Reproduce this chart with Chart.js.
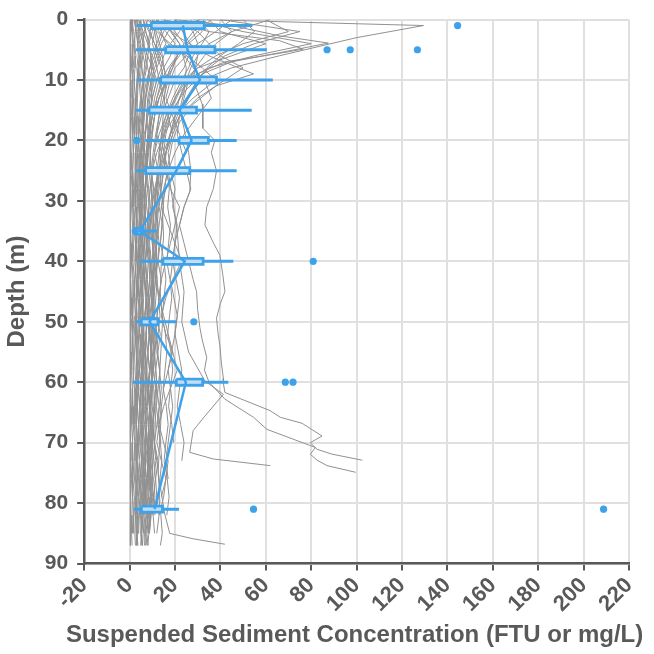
<!DOCTYPE html>
<html>
<head>
<meta charset="utf-8">
<script src="https://cdn.jsdelivr.net/npm/chart.js@4/dist/chart.umd.min.js"></script>
<style>
html,body{margin:0;padding:0;background:#fff;}
#wrap{width:654px;height:654px;}
</style>
</head>
<body>
<div id="wrap"><canvas id="c" width="654" height="654"></canvas></div>
<script>
// ---------- Axis ticks ----------
const xTicks = [-20,0,20,40,60,80,100,120,140,160,180,200,220];
const yTicks = [0,10,20,30,40,50,60,70,80,90];
const X_TITLE = 'Suspended Sediment Concentration (FTU or mg/L)';
const Y_TITLE = 'Depth (m)';

// ---------- Box plot summary (depth in m, SSC values) ----------
const boxDepth   = [1, 5, 10, 15, 20, 25, 35, 40, 50, 60, 81];
const whiskerLo  = [3.2, 2.7, 3.2, 2.7, 7.1, 2.7, 1.5, 4.4, 2.9, 1.5, 1.9];
const q1         = [9.6, 15.9, 13.7, 8.6, 21.8, 7.1, 2.5, 14.7, 5.2, 20.6, 5.2];
const median     = [23.5, 25.5, 31, 22, 27.3, 20.6, 4.5, 24.3, 8.8, 24.8, 11];
const q3         = [32.9, 37.6, 38.3, 29.5, 34.7, 26.5, 6.0, 32.4, 12.5, 32.2, 14.5];
const whiskerHi  = [54.1, 60.5, 63.1, 53.8, 47.2, 47.2, 12, 45.7, 20.6, 43.5, 21.8];
const outlierX   = [144.5, 87, 97.2, 126.8, 3.2, 2.5, 80.9, 28.3, 68.6, 72, 54.6, 208.8];
const outlierY   = [1, 5, 5, 5, 20, 35, 40, 50, 60, 60, 81, 81];

// ---------- Individual profiles on a shared depth grid ----------
const gridDepth = [0,2,4,6,8,10,13,16,19,22,25,28,31,34,37,40,43,46,49,52,55,58,61,64,67,70,73,76,79,82,85,87];
const gridProfiles = [
 [0.5,0.3,0.5,0.2,0.4,0.5,0.3,0.2,0.5,0.4,0.3,0.5,0.2,0.4,0.3,0.5,0.2,0.4,0.5,0.3,0.2,0.4,0.5,0.3,0.4,0.2,0.5,0.3,0.4,0.2,0.5,0.4],
 [1.5,1.2,1.8,1.4,1.1,1.6,1.3,1.5,1.2,1.7,1.4,1.2,1.5,1.8,1.3,1.1,1.6,1.4,1.2,1.5,1.3,1.7,1.4,1.2,1.6,1.3,1.5,1.1,1.4,1.7,1.2,null],
 [3,2.5,2.2,2.8,2.4,2,2.6,2.3,2.1,2.7,2.5,2.2,2.4,2,2.6,2.8,2.3,2.1,2.5,2.7,2.2,2.4,2.9,2.3,2.1,2.6,2.4,2.2,2.8,2.5,2.3,2.6],
 [5,4.2,3.5,3.8,3.2,3.6,3,3.4,3.1,2.8,3.3,3,3.5,2.9,3.2,3.6,3.1,2.8,3.4,3,3.3,2.9,3.7,3.2,3,3.5,3.1,3.4,2.9,3.3,3.6,null],
 [8,6.5,5.8,5,4.6,4.2,4.8,4.1,3.8,4.4,4,3.6,4.2,4.5,3.9,4.1,3.7,4.3,4,3.6,4.4,4.1,3.8,4.6,4.2,3.9,4.5,4.1,4.8,4.3,4,null],
 [12,10,8.5,7.2,6.5,6,5.2,5.5,4.8,5.1,4.6,5,4.4,4.9,5.3,4.7,5.1,4.5,4.9,5.4,4.8,5.2,4.6,5,5.5,4.9,5.3,4.7,5.1,4.8,5.2,4.9],
 [18,15,13,11,9,8,7,6.5,6,5.5,6.2,5.8,5.4,6,5.6,6.3,5.9,5.5,6.1,5.7,6.4,6,5.6,6.2,5.8,6.5,6.1,5.7,6.3,5.9,6.2,null],
 [25,22,18,15,14,12,10,9,8,7.5,7,7.8,7.2,6.8,7.4,7,6.6,7.3,6.9,7.5,7.1,6.7,7.4,7,7.6,7.2,6.8,7.5,7.1,null,null,null],
 [6,7,9,8,7.5,6.5,6,5.5,5.8,6.2,5.4,5,5.6,5.2,4.8,5.4,5.9,5.3,5.7,6.1,5.5,5.9,6.3,5.7,6,6.6,7,6.4,6.8,7.2,6.6,7],
 [10,14,16,13,11,9.5,8,7.5,8.2,7.6,7,8,8.6,7.8,7.2,8.4,9,8.2,7.6,8.8,8.2,7.4,8,8.8,9.2,8.4,7.8,8.6,9.4,8.8,8.2,null],
 [15,20,24,22,18,16,13,11,10,9,9.5,10.5,9.8,9.2,10,10.8,10.2,9.6,10.4,11,10.2,9.6,10.6,11.2,10.4,9.8,10.8,11.4,10.6,11.2,null,null],
 [22,28,30,26,24,20,17,14,12,11,12.5,11.8,11,12.2,13,12.4,11.6,12.8,13.4,12.6,12,13.2,14,13.2,12.4,13.6,14.2,13.4,12.8,13.8,14.4,13.6],
 [30,35,32,28,26,23,19,16,14,13,14,13.5,15,14.2,13.6,15.2,16,15.2,14.4,15.8,16.4,15.6,14.8,16.2,17,16,15.2,16.6,17.4,16.4,null,null],
 [40,45,38,33,29,26,22,18,16,15,16.5,17.5,16.8,18,17.2,16.4,17.8,18.6,17.6,16.8,18.2,19,18,17.2,18.6,19.4,null,null,null,null,null,null],
 [50,55,48,40,34,30,26,22,19,17,18,20,19,21,20,19,20.5,22,21,20,21.5,23,22,21,22.5,24,23,null,null,null,null,null],
 [62,45,35,30,27,25,22,20,18,16,15,14,13,14.5,13.5,12.5,14,13,12,13.5,12.5,11.5,12,13,12,11,12.5,11.5,12,13,null,null],
 [35,40,60,45,30,24,20,17,15,14,13,12,12.5,11.5,11,12,11.5,10.5,11,12,11,10.5,11.5,11,10,10.8,11.6,10.6,11.2,10.4,11,null],
 [28,50,80,55,35,25,20,16,13,11,10,9.5,10,9,8.5,9.2,8.8,8.2,9,8.6,8,8.8,8.4,7.8,8.6,8.2,7.6,8.4,8,7.6,8.2,null],
 [20,30,35,40,50,42,30,22,18,15,13,12,11,10.5,10,11,10.4,9.8,10.6,10,9.4,10.2,9.6,9,9.8,9.2,8.8,9.6,9,8.6,null,null],
 [8,12,18,25,32,38,28,20,15,12,10,9,8.5,8,7.6,8.2,7.8,7.2,7.8,7.4,7,7.6,7.2,6.8,7.4,7,6.6,7.2,6.8,6.4,7,6.6],
 [14,18,22,24,28,33,36,30,24,20,17,15,14,13,12,11.5,12.2,11.6,11,11.8,11.2,10.6,11.4,10.8,10.2,11,10.4,9.8,10.6,10,null,null],
 [4,5,6,7,8,9,10,9,8.5,8,7.5,7,6.5,7,6.5,6,6.6,6.2,5.8,6.4,6,5.6,6.2,5.8,5.4,6,5.6,5.2,5.8,5.4,5,5.6],
 [2,3,4,5,5.5,6,6.5,6,5.5,5,4.6,4.2,4.8,4.4,4,4.6,4.2,3.8,4.4,4,3.6,4.2,3.8,3.4,4,3.6,3.2,3.8,3.4,3,3.6,3.2],
 [9,11,12,10,9,8,7,6,5.5,5,4.5,4.8,5.2,4.6,4.2,4.8,5.2,4.6,4,4.6,5,4.4,3.8,4.4,4.8,4.2,3.6,4.2,4.6,4,3.4,null],
 [16,14,12,11,12,13,15,17,19,16,13,11,10,9,8,9,10,9,8,8.5,9.5,8.8,8,8.6,9.4,8.6,7.8,8.4,9.2,8.4,7.6,8.2],
 [45,38,30,25,20,18,16,19,22,25,20,16,14,17,20,23,19,16,14,16,19,21,18,15,13,15,17,16,14,null,null,null],
 [33,28,24,21,18,16,14,13,12,14,16,18,22,20,18,16,14,13,15,17,19,17,15,14,13,12,14,16,15,13,12,null],
 [12,16,20,18,15,13,11,10,9,8,7.5,7,6.5,6,6.5,7,7.5,8,8.5,9,9.5,10,9.5,9,8.5,8,8.5,9,9.5,9,8.5,8],
 [7,9,11,14,12,10,8.5,7.5,7,6.5,6,5.5,5,5.5,6,6.5,6,5.5,5,5.5,6,6.5,6,5.5,5,5.5,6,6.5,6,5.5,5,5.5],
 [3.5,4,5,4.5,4,3.8,3.5,3.2,3,3.4,3.8,3.5,3.2,3,2.8,3.2,3.6,3.3,3,2.8,3.1,3.5,3.2,2.9,2.7,3,3.4,3.1,2.8,2.6,2.9,3.2],
 [60,70,50,38,30,26,24,22,21,23,25,27,24,22,20,19,18,19.5,21,20,18.5,17,18,19,18,17,16,17,null,null,null,null],
 [40,75,55,42,35,30,25,21,18,16,14,13,12,11,10.5,10,9.5,10,9.5,9,9.5,9,8.5,9,8.5,8,8.5,8,7.5,8,null,null],
 [2.5,3.5,4.5,6,7,6,5,4.5,4,3.6,3.2,3.5,3.9,3.4,3,3.3,3.7,3.2,2.9,3.4,3.8,3.3,3,3.5,3.9,3.4,3.1,3.6,4,3.5,3.2,3.7],
 [11,9,8,9.5,10.5,11,9,8,7,6.2,5.6,6.4,7,6.2,5.5,6,6.8,7.4,6.6,5.9,6.5,7.2,6.4,5.8,6.6,7.3,6.5,5.9,6.7,7.4,6.8,null],
 [1,1.8,2.4,2,1.6,2.2,1.8,1.4,2,1.7,1.3,1.9,1.6,2.2,1.8,1.5,2.1,1.7,1.4,2,1.8,1.5,2.2,1.9,1.6,2.3,1.9,1.5,2.1,1.8,1.6,null],
 [4,6,8,10,9,7.5,6,5,4.2,3.8,4.4,5,4.6,4,4.8,5.4,4.9,4.3,5,5.6,5,4.4,5.2,5.8,5.1,4.5,5.3,5.9,5.2,4.6,null,null],
 [20,17,14,12,10,8.6,7.2,6.4,5.8,6.6,7.4,6.8,6.2,7,7.8,7.1,6.5,7.3,8,7.2,6.6,7.4,8.2,7.5,6.8,7.6,8.4,7.7,7,7.8,8.5,null],
 [6,8.5,11,13,15,17,13,10,8.4,7.2,6.4,5.8,6.6,7.2,6.5,5.9,6.8,7.5,6.8,6.1,7,7.7,7,6.3,7.2,7.9,7.1,6.4,7.3,8,7.2,7.6],
 [2.2,2.8,3.6,4.2,3.8,3.2,2.8,2.5,2.9,3.3,2.8,2.4,2.7,3.1,2.6,2.3,2.8,3.2,2.7,2.4,2.9,3.3,2.8,2.5,3,3.4,2.9,2.6,3.1,3.5,3,null],
 [27,32,26,21,17,14,12,11,10,9.2,8.6,9.4,10.2,9.5,8.8,9.6,10.4,9.7,9,9.8,10.6,9.9,9.2,10,10.8,10.1,9.4,10.2,null,null,null,null],
 [13,11,10,12,14,15,12,10,8.8,8,7.3,6.8,7.6,8.4,7.7,7,7.8,8.6,7.9,7.2,8,8.8,8.1,7.4,8.2,9,8.3,7.6,8.4,9.2,8.5,null],
 [3,4.5,6,8,10,12,10,8,6.5,5.4,4.6,4,4.6,5.2,4.7,4.2,4.8,5.4,4.9,4.3,5,5.6,5,4.5,5.2,5.8,5.2,4.6,5.3,5.9,5.3,5.6],
 [36,30,25,21,19,17,15,13,11.5,10.4,9.6,10.6,11.6,12.6,11.8,11,12,13,12.2,11.4,12.4,13.4,12.6,11.8,12.8,13.8,null,null,null,null,null,null],
 [0.8,1,1.4,1.2,0.9,1.3,1.1,0.8,1.2,1,0.7,1.1,0.9,1.3,1,0.8,1.2,0.9,0.7,1.1,1,0.8,1.2,1,0.9,1.3,1.1,0.8,1.2,1,0.9,1.1],
 [9,13,17,21,19,16,13,11,9.5,8.4,7.6,8.4,9.2,8.6,8,8.8,9.6,8.9,8.2,9,9.8,9.1,8.4,9.2,10,9.3,8.6,9.4,10.2,9.5,8.8,null],
 [5,5.5,6.5,5.8,5.2,4.8,5.4,6,5.4,4.9,5.5,6.1,5.5,5,5.6,6.2,5.6,5.1,5.7,6.3,5.7,5.2,5.8,6.4,5.8,5.3,5.9,6.5,5.9,5.4,6,5.7]
];

// ---------- Individual profiles with their own depth samples ----------
const profA_depth = [0,1,3,6,8,10,13,16,20,25,30,35,40,45,50,55,60,65,70,75,78];
const profA_value = [30,129.5,100,66,45,32,25,20,17,15,13,12,11,10.5,10,9.5,10,9,9.5,9,8.5];
const profB_depth = [0,1,2.7,3.9,5.5,7,9,12,15,18,22,26,30,35,40,45,50,55,60,65,70,75,80];
const profB_value = [20,45,66,87.6,66,45,32,24,19,16,14,13,12,11.5,12,11,10.5,11,10,10.5,9.8,10.2,9.6];
const profC_depth = [0,2,3.5,4.9,5.6,7,9,12,15,18,22,26,30,35,40,45,50,55,60,65,70,75,80,84];
const profC_value = [15,35,66,76.5,66,42,30,22,18,15,13,12,11,10,10.5,9.8,10.2,9.5,10,9.4,9.8,9.2,9.6,9];
const profD_depth = [0,3,6,9,11,14,17,20,24,28,32,36,40,45,50,55,60,65,70,75,80];
const profD_value = [12,22,35,54.6,38,28,22,19,17,15.5,14.5,15,14,13.5,14.5,13.8,13,14,13.2,12.6,13.4];
const profE_depth = [0,3,6,10,14,18,20,22,25,28,31,34,37,39,42,45,47,49.4,52,54,57,59.3,60.1,61.7,64.7,65.8,66.8,68.9,70,71.1,71.9,72.9];
const profE_value = [20,25,30,28,32,32.3,37.6,36,38.3,36.9,34,33.2,37,39.8,41,42,40,38.3,39,39.8,40.5,41.3,41.3,42,61.9,66.4,76,84.8,79.6,82.6,89.2,102.5];
const profF_depth = [0,4,8,12,15,18,22,25,28.5,31,34,37,40,43,45,48,51,53,55.9,58,60,62.8,65.8,67.8,70.8,71.9,72.9,73.8,74.9];
const profF_value = [15,22,25,24,22,24,26,27,26.5,24,22,24,26,28,29.5,30,31,32,34,33,35,42,54.6,60.5,81.9,79.6,82.6,87,99.6];
const profG_depth = [0,5,10,15,20,25,30,35,40,45,50,55,59.8,62,65.6,68,71.6,72.7,73.8];
const profG_value = [10,14,16,15,14,17,19,21,22,24,23,26,33.2,41.3,33.2,28,26.5,36.9,62];
const profH_depth = [0,5,10,20,30,40,50,60,70,76,81.8,85,85.9,86.8];
const profH_value = [6,9,10,9,10,11,10,12,11,13,15.5,17.7,28,42];

const BLUE = '#3ea2ea';
const GRAY = 'rgb(145,145,145)';
const TEXT = '#595959';
const FONT = "'Liberation Sans', Arial, Helvetica, sans-serif";
const X_TITLE_SIZE = 24;

const datasets = [];
function pts(xs, ys) {
  const out = [];
  for (let i = 0; i < xs.length; i++) {
    if (xs[i] === null || xs[i] === undefined) continue;
    out.push({x: xs[i], y: ys[i]});
  }
  return out;
}

// Outliers (top)
datasets.push({data: pts(outlierX, outlierY), showLine: false, pointRadius: 3.6,
  pointBackgroundColor: BLUE, pointBorderColor: BLUE, pointBorderWidth: 0, order: 0});
// Median line
datasets.push({data: pts(median, boxDepth), borderColor: BLUE, borderWidth: 2.5,
  pointRadius: 0, fill: false, order: 1});
// Boxes and whiskers
const HALF = 0.5;
for (let i = 0; i < boxDepth.length; i++) {
  const d = boxDepth[i];
  datasets.push({data: [{x: q1[i], y: d - HALF}, {x: q3[i], y: d - HALF}, {x: q3[i], y: d + HALF},
      {x: q1[i], y: d + HALF}, {x: q1[i], y: d - HALF}],
    borderColor: BLUE, borderWidth: 2.8, backgroundColor: 'rgba(225,236,248,0.8)',
    fill: 'shape', pointRadius: 0, order: 2});
  datasets.push({data: [{x: whiskerLo[i], y: d}, {x: whiskerHi[i], y: d}],
    borderColor: BLUE, borderWidth: 3, pointRadius: 0, fill: false, order: 3});
}
// Gray profiles (bottom)
gridProfiles.forEach(vals => {
  datasets.push({data: pts(vals, gridDepth), borderColor: GRAY, borderWidth: 1,
    pointRadius: 0, fill: false, order: 10});
});
[[profA_value, profA_depth],[profB_value, profB_depth],[profC_value, profC_depth],[profD_value, profD_depth],
 [profE_value, profE_depth],[profF_value, profF_depth],[profG_value, profG_depth],[profH_value, profH_depth]].forEach(p => {
  datasets.push({data: pts(p[0], p[1]), borderColor: GRAY, borderWidth: 1,
    pointRadius: 0, fill: false, order: 10});
});

// The x-axis title is wider than the plot, so draw it without Chart.js's maxWidth squeeze
// (the scale title is kept, transparent, only to reserve its space in the layout).
const xTitlePlugin = {
  id: 'xTitleFull',
  afterDraw(chart) {
    const sc = chart.scales.x;
    const a = chart.chartArea;
    const ctx = chart.ctx;
    ctx.save();
    ctx.font = 'bold ' + X_TITLE_SIZE + 'px ' + FONT;
    ctx.fillStyle = TEXT;
    ctx.textAlign = 'center';
    ctx.textBaseline = 'middle';
    ctx.fillText(X_TITLE, (a.left + a.right) / 2 - 2, sc.bottom - X_TITLE_SIZE * 1.2 / 2);
    ctx.restore();
  }
};

new Chart(document.getElementById('c'), {
  type: 'line',
  data: {datasets},
  plugins: [xTitlePlugin],
  options: {
    responsive: false,
    animation: false,
    events: [],
    layout: {padding: {top: 2, right: 25, left: 3, bottom: 4}},
    plugins: {legend: {display: false}, tooltip: {enabled: false}},
    elements: {line: {tension: 0}},
    scales: {
      x: {
        type: 'linear', min: -20, max: 220,
        afterBuildTicks: s => { s.ticks = xTicks.map(v => ({value: v})); },
        ticks: {color: TEXT, font: {family: FONT, size: 22, weight: 'bold'}, maxRotation: 45, minRotation: 45, padding: 2},
        grid: {color: '#e0e0e0', lineWidth: 2, tickColor: TEXT, tickLength: 7, tickWidth: 2},
        border: {display: true, color: TEXT, width: 2.5},
        title: {display: true, text: X_TITLE, color: 'rgba(0,0,0,0)',
          font: {family: FONT, size: X_TITLE_SIZE, weight: 'bold'}, padding: {top: 2, bottom: 0}}
      },
      y: {
        type: 'linear', min: 0, max: 90, reverse: true,
        afterBuildTicks: s => { s.ticks = yTicks.map(v => ({value: v})); },
        ticks: {color: TEXT, font: {family: FONT, size: 21, weight: 'bold', lineHeight: 1}, padding: 9},
        grid: {color: '#e0e0e0', lineWidth: 2, tickColor: TEXT, tickLength: 7, tickWidth: 2},
        border: {display: true, color: TEXT, width: 2.5},
        title: {display: true, text: Y_TITLE, color: TEXT,
          font: {family: FONT, size: 24, weight: 'bold'}, padding: {top: 0, bottom: 4}}
      }
    }
  }
});
</script>
</body>
</html>
